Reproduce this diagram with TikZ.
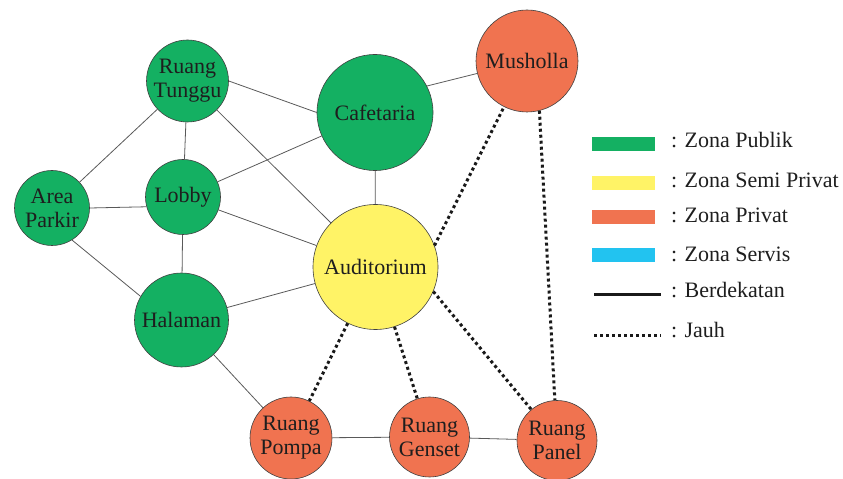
\documentclass[tikz,border=0pt]{standalone}
\usepackage{fontspec}
\setmainfont{Liberation Serif}
\definecolor{zpub}{RGB}{20,176,98}
\definecolor{zsemi}{RGB}{255,243,102}
\definecolor{zpriv}{RGB}{240,115,80}
\definecolor{zserv}{RGB}{34,195,240}
\definecolor{txt}{RGB}{30,30,30}
\begin{document}
\begin{tikzpicture}[x=1pt,y=1pt,
  zone/.style={circle,draw=black!75,line width=0.6pt,inner sep=0pt,align=center,
    font=\fontsize{22}{24}\selectfont,text=txt},
  pub/.style={zone,fill=zpub},
  semi/.style={zone,fill=zsemi},
  priv/.style={zone,fill=zpriv},
  near/.style={draw=black!65,line width=0.8pt},
  far/.style={draw=black!90,line width=3pt,dash pattern=on 3pt off 3pt},
  legbox/.style={rectangle,inner sep=0pt,minimum width=63pt,minimum height=14pt,draw=none},
  legtext/.style={anchor=base west,inner sep=0pt,font=\fontsize{22}{24}\selectfont,text=txt}
]
\useasboundingbox (0,0) rectangle (843,479);

% nodes
\node[pub,minimum size=82pt]  (rt)     at (187.5,398) {Ruang\\Tunggu};
\node[pub,minimum size=116pt] (cafe)   at (375,366.5) {Cafetaria};
\node[priv,minimum size=102pt](mush)   at (527,418)   {Musholla};
\node[pub,minimum size=75pt]  (ap)     at (52,271)    {Area\\Parkir};
\node[pub,minimum size=75pt]  (lobby)  at (183,282)   {Lobby};
\node[semi,minimum size=125pt](aud)    at (375.5,212) {Auditorium};
\node[pub,minimum size=94pt]  (hal)    at (181.5,159) {Halaman};
\node[priv,minimum size=82pt] (pompa)  at (291,41)    {Ruang\\Pompa};
\node[priv,minimum size=80pt] (genset) at (429.5,42)  {Ruang\\Genset};
\node[priv,minimum size=80pt] (panel)  at (557,38.5)  {Ruang\\Panel};

% solid connectors (berdekatan)
\draw[near] (rt.0) -- (cafe.180);
\draw[near] (rt) -- (ap);
\draw[near] (rt) -- (lobby);
\draw[near] (rt) -- (aud);
\draw[near] (lobby) -- (cafe);
\draw[near] (ap.east) -- (lobby.195);
\draw[near] (lobby) -- (hal);
\draw[near] (lobby) -- (aud);
\draw[near] (cafe) -- (aud);
\draw[near] (cafe.27) -- (mush);
\draw[near] (ap.-58) -- (hal.150);
\draw[near] (hal) -- (aud);
\draw[near] (hal) -- (pompa);
\draw[near] (pompa) -- (genset);
\draw[near] (genset) -- (panel);

% dotted connectors (jauh)
\draw[far] (aud.20) -- (mush);
\draw[far] (mush.-76) -- (panel);
\draw[far] (aud) -- (pompa);
\draw[far] (aud) -- (genset);
\draw[far] (aud.-23) -- (panel);

% legend
\node[legbox,fill=zpub]  (lg1) at (623.5,335) {};
\node[legbox,fill=zsemi] (lg2) at (623.5,296) {};
\node[legbox,fill=zpriv] (lg3) at (623.5,262) {};
\node[legbox,fill=zserv] (lg4) at (623.5,223.5) {};
\coordinate (ls1) at (594,184);
\coordinate (ls2) at (661,184);
\coordinate (ld1) at (594,143);
\coordinate (ld2) at (661,143);
\draw[black!90,line width=3pt] (ls1) -- (ls2);
\draw[far] (ld1) -- (ld2);
\node[legtext] (t1) at (671,331) {: Zona Publik};
\node[legtext] (t2) at (671,291) {: Zona Semi Privat};
\node[legtext] (t3) at (671,256) {: Zona Privat};
\node[legtext] (t4) at (671,217) {: Zona Servis};
\node[legtext] (t5) at (671,181) {: Berdekatan};
\node[legtext] (t6) at (671,141) {: Jauh};
\end{tikzpicture}
\end{document}
